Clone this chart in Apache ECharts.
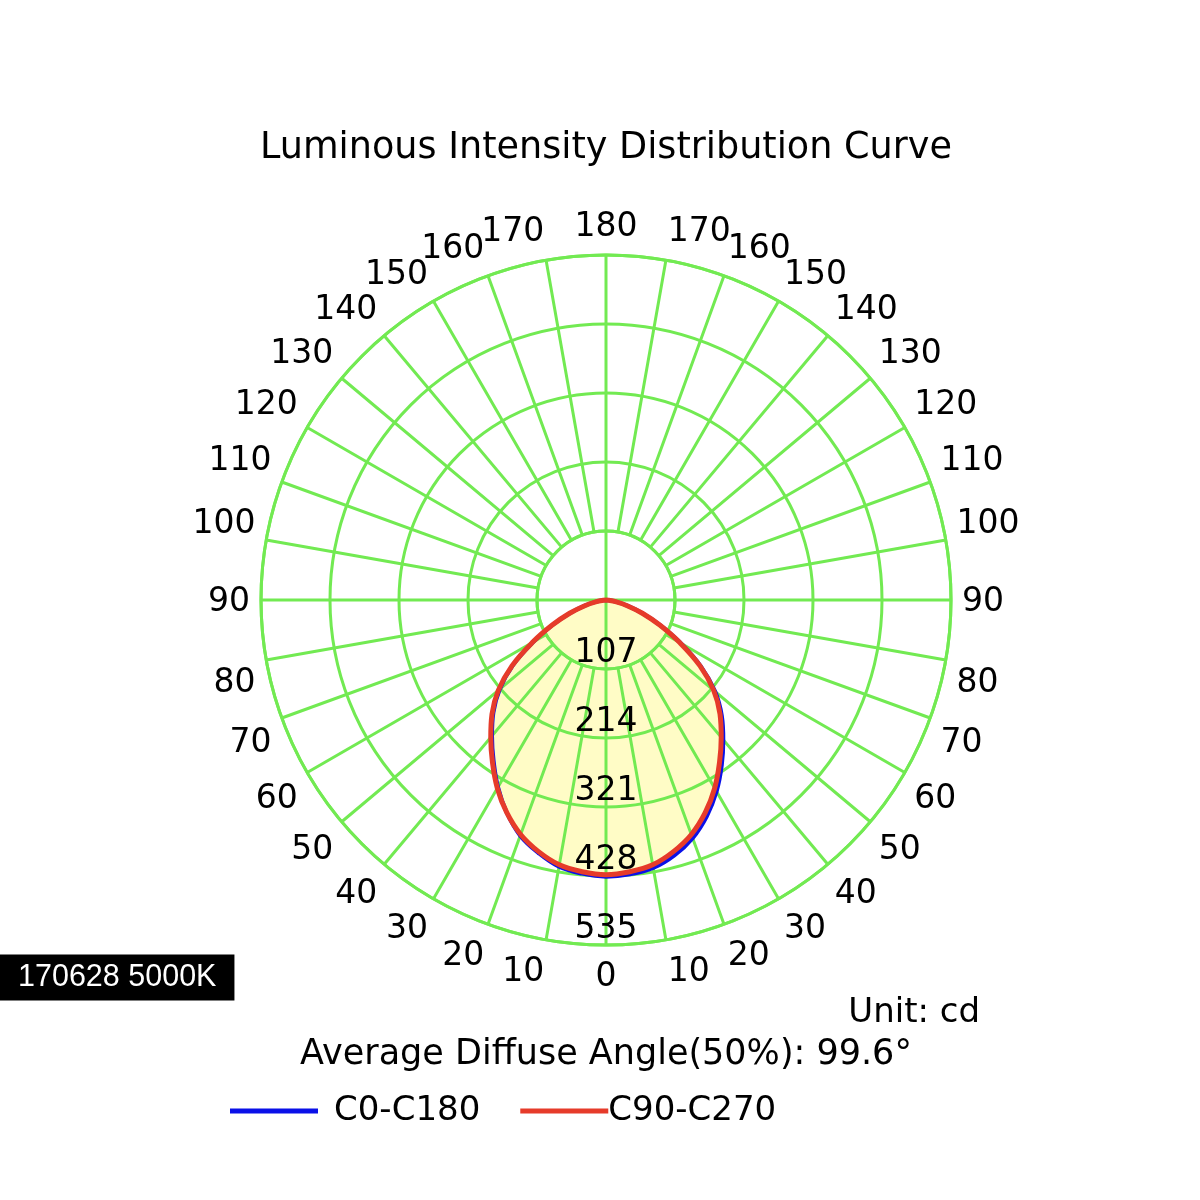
<!DOCTYPE html>
<html>
<head>
<meta charset="utf-8">
<script src="https://cdn.jsdelivr.net/npm/echarts@6/dist/echarts.min.js"></script>
<style>html,body{margin:0;padding:0;background:#fff}#c{width:1200px;height:1200px}</style>
</head>
<body>
<div id="c"></div>
<script>
// Gamma angles (deg from nadir) and intensities (cd)
const gammaAngles = [0, 5, 10, 15, 20, 25, 30, 35, 40, 45, 50, 55, 60, 65, 70, 75, 80, 85, 90];
const c0   = [429, 427, 422, 410, 393, 370, 343, 313, 283, 254, 221, 180, 134, 93, 60, 34, 15, 4, 0];
const c180 = [429, 426, 420, 406, 389, 364, 335, 304, 275, 247, 215, 176, 130, 91, 59, 34, 15, 4, 0];
const c90  = [426, 423, 417, 404, 387, 364, 337, 307, 278, 250, 218, 178, 132, 92, 60, 34, 15, 4, 0];
const c270 = [426, 423, 417, 404, 387, 364, 337, 307, 278, 250, 218, 178, 132, 92, 60, 34, 15, 4, 0];
const radialTicks = [107, 214, 321, 428, 535];
const seriesNames = ['C0-C180', 'C90-C270'];
const titleText = 'Luminous Intensity Distribution Curve';
const unitText = 'Unit: cd';
const angleText = 'Average Diffuse Angle(50%): 99.6°';
const tagText = '170628 5000K';

const G = '#72ea52';
const FONT = 'DejaVu Sans';

function loop(left, right) {
  const pts = [];
  for (let i = gammaAngles.length - 1; i >= 0; i--) pts.push([left[i], gammaAngles[i]]);
  for (let i = 1; i < gammaAngles.length; i++) pts.push([right[i], 360 - gammaAngles[i]]);
  return pts;
}
const blueData = loop(c180, c0);
const redData = loop(c270, c90);

function angleLabel(v) {
  if (v >= 360) return '';
  const L = String(v <= 180 ? v : 360 - v);
  const t = '{t|' + L + '}', h = '{h|' + L + '}';
  if (v === 10 || v === 170) return t + h;
  if (v === 190 || v === 350) return h + t;
  if (v === 80 || v === 280) return h + '\n' + '{d|' + L + '}';
  if (v === 100 || v === 260) return t + '\n' + h;
  return t;
}

const chart = echarts.init(document.getElementById('c'), null, {renderer: 'canvas'});
const option = {
  backgroundColor: '#fff',
  animation: false,
  title: [
    {text: titleText, left: 606, textAlign: 'center', top: 130, padding: 0,
     textStyle: {fontSize: 36.6, fontWeight: 'normal', fontFamily: FONT, color: '#000'}},
    {text: unitText, right: 220, top: 996, padding: 0,
     textStyle: {fontSize: 34, fontWeight: 'normal', fontFamily: FONT, color: '#000'}},
    {text: angleText, left: 606, textAlign: 'center', top: 1037, padding: 0,
     textStyle: {fontSize: 35, fontWeight: 'normal', fontFamily: FONT, color: '#000'}},
    {text: tagText, left: 0, top: 955, padding: [8, 18, 7, 18], backgroundColor: '#000',
     textStyle: {fontSize: 30.5, lineHeight: 30, fontWeight: 'normal', fontFamily: 'Liberation Sans', color: '#fff'}}
  ],
  legend: {
    left: 230, top: 1094, padding: 0, itemWidth: 88, itemHeight: 5, itemGap: 40, icon: 'rect',
    textStyle: {fontSize: 34, fontFamily: FONT, color: '#000', padding: [4, 0, 0, 11]},
    data: [{name: seriesNames[0]}, {name: seriesNames[1], textStyle: {padding: [4, 0, 0, -5]}}]
  },
  polar: [
    {center: [606, 600], radius: [69, 345]},
    {center: [606, 600], radius: [0, 345]}
  ],
  angleAxis: [
    {polarIndex: 0, type: 'value', min: 0, max: 360, interval: 10, startAngle: -90, clockwise: true, z: 3,
     axisLine: {lineStyle: {color: G, width: 3}},
     axisTick: {show: false},
     splitLine: {lineStyle: {color: G, width: 3}},
     axisLabel: {margin: 11, padding: [5, 0, 0, 0], fontSize: 33, fontFamily: FONT, color: '#000',
       formatter: angleLabel,
       rich: {
         t: {fontSize: 33, lineHeight: 33, fontFamily: FONT, color: '#000'},
         d: {fontSize: 33, lineHeight: 33, fontFamily: FONT, color: '#000', padding: [6, 0, 0, 0]},
         h: {fontSize: 33, lineHeight: 33, fontFamily: FONT, color: 'rgba(0,0,0,0)'}
       }}},
    {polarIndex: 1, type: 'value', min: 0, max: 360, startAngle: -90, clockwise: true, show: false}
  ],
  radiusAxis: [
    {polarIndex: 0, type: 'value', min: 107, max: 535, interval: 107, z: 3,
     axisLine: {show: false}, axisTick: {show: false}, axisLabel: {show: false},
     splitLine: {lineStyle: {color: G, width: 3}}},
    {polarIndex: 1, type: 'value', min: 0, max: 535, show: false}
  ],
  series: [
    {name: 'fillA', type: 'line', coordinateSystem: 'polar', polarIndex: 1, z: 1, silent: true, smooth: 0.4,
     data: blueData, showSymbol: false, lineStyle: {width: 0}, areaStyle: {color: '#fffcc6', opacity: 1}},
    {name: 'fillB', type: 'line', coordinateSystem: 'polar', polarIndex: 1, z: 1, silent: true, smooth: 0.4,
     data: redData, showSymbol: false, lineStyle: {width: 0}, areaStyle: {color: '#fffcc6', opacity: 1}},
    {name: 'axisV', type: 'line', coordinateSystem: 'polar', polarIndex: 1, z: 4, silent: true,
     data: [[107, 0], [0, 0], [107, 180]], showSymbol: false, lineStyle: {color: G, width: 3}},
    {name: 'axisH', type: 'line', coordinateSystem: 'polar', polarIndex: 1, z: 4, silent: true,
     data: [[107, 90], [0, 90], [107, 270]], showSymbol: false, lineStyle: {color: G, width: 3}},
    {name: seriesNames[0], type: 'line', coordinateSystem: 'polar', polarIndex: 1, z: 5, smooth: 0.4,
     data: blueData, showSymbol: false, lineStyle: {color: '#0a10e8', width: 4}, itemStyle: {color: '#0a10e8'}},
    {name: seriesNames[1], type: 'line', coordinateSystem: 'polar', polarIndex: 1, z: 6, smooth: 0.4,
     data: redData, showSymbol: false, lineStyle: {color: '#e63b2a', width: 5}, itemStyle: {color: '#e63b2a'}},
    {name: 'ticks', type: 'scatter', coordinateSystem: 'polar', polarIndex: 1, z: 7, silent: true,
     data: radialTicks.map(v => [v, 0]), symbolSize: 1, itemStyle: {color: 'rgba(0,0,0,0)', opacity: 1},
     label: {show: true, position: 'top', distance: -1.5, fontSize: 33, fontFamily: FONT, color: '#000', opacity: 1,
       formatter: p => String(p.value[0])}}
  ]
};
chart.setOption(option);
</script>
</body>
</html>
